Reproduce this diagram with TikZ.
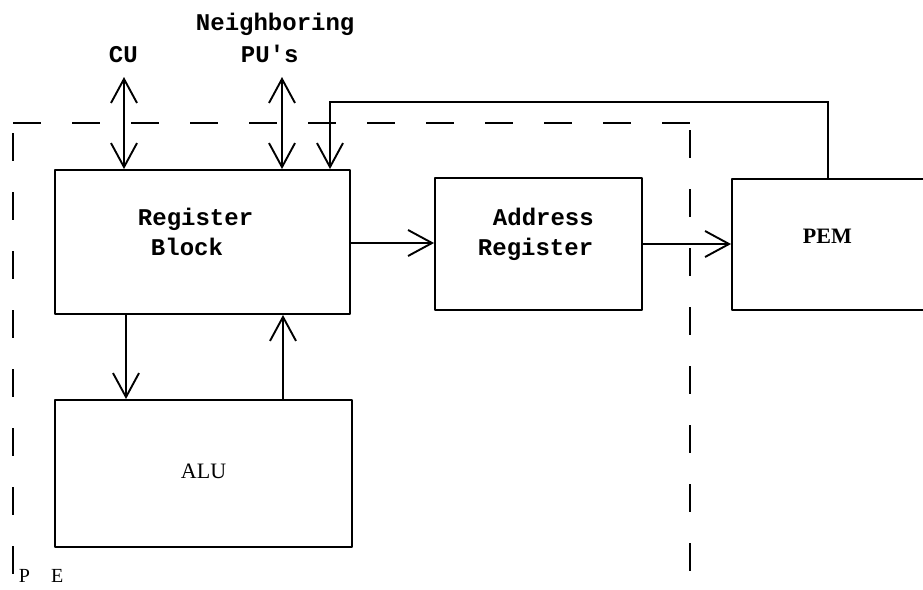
\documentclass[tikz,border=0pt]{standalone}
\usepackage{fontspec}
\setmainfont{Liberation Serif}
\newfontfamily\twfont{Liberation Mono}
\usetikzlibrary{arrows.meta}
\begin{document}
\begin{tikzpicture}[x=1pt,y=-1pt,line width=1.9pt,
  box/.style={draw,rectangle,inner sep=0pt,line join=round},
  tw/.style={font=\twfont\bfseries\fontsize{24}{30}\selectfont,inner sep=0pt,anchor=base west},
  rm/.style={font=\fontsize{22}{26}\selectfont,inner sep=0pt,anchor=base west},
  barb/.tip={Straight Barb[length=24pt,width=26pt]},
  oneway/.style={-barb},
  twoway/.style={barb-barb},
  peline/.style={dash pattern=on 28pt off 31pt}]
\useasboundingbox (0,0) rectangle (923,589);
\clip (0,0) rectangle (923,589);
% boxes
\node[box,minimum width=295pt,minimum height=144pt] (rb) at (202.5,242) {};
\node[box,minimum width=297pt,minimum height=147pt] (alu) at (203.5,473.5) {};
\node[box,minimum width=207pt,minimum height=132pt] (ar) at (538.5,244) {};
\node[box,minimum width=198pt,minimum height=131pt] (pem) at (831,244.5) {};
% texts in boxes
\node[tw] (rbt1) at (137,225) {Register};
\node[tw] (rbt2) at (150,255) {Block};
\node[rm] (alut) at (180,478) {ALU};
\node[tw] (art1) at (492,225) {Address};
\node[tw] (art2) at (477,255) {Register};
\node[rm,font=\bfseries\fontsize{22}{26}\selectfont] (pemt) at (802,243) {PEM};
% labels
\node[tw] (cu) at (108,62) {CU};
\node[tw] (nb) at (195,30) {Neighboring};
\node[tw] (pu) at (240,62) {PU\textquotesingle s};
\node[rm,font=\fontsize{20}{24}\selectfont] (pe) at (18,582) {P\hspace{21pt}E};
% free ends
\coordinate (cuend) at (124,77);
\coordinate (puend) at (282,77);
\coordinate (fbtop) at (828,102);
\coordinate (fbleft) at (330,102);
\coordinate (petl) at (13,123);
\coordinate (petr) at (690,123);
% PE boundary
\draw[peline] (petl) -- (petr);
\draw[peline] (13,133) -- (13,600);
\draw[peline] (690,130) -- (690,600);
% connectors
\draw[twoway] (cuend) -- (cuend |- rb.north);
\draw[twoway] (puend) -- (puend |- rb.north);
\draw[oneway] (pem.north -| fbtop) -- (fbtop) -- (fbleft) -- (fbleft |- rb.north);
\draw[oneway] (rb.east |- 0,243) -- (ar.west |- 0,243);
\draw[oneway] (ar.east) -- (ar.east -| pem.west);
\draw[oneway] (rb.south -| 126,0) -- (alu.north -| 126,0);
\draw[oneway] (alu.north -| 283,0) -- (rb.south -| 283,0);
\end{tikzpicture}
\end{document}
